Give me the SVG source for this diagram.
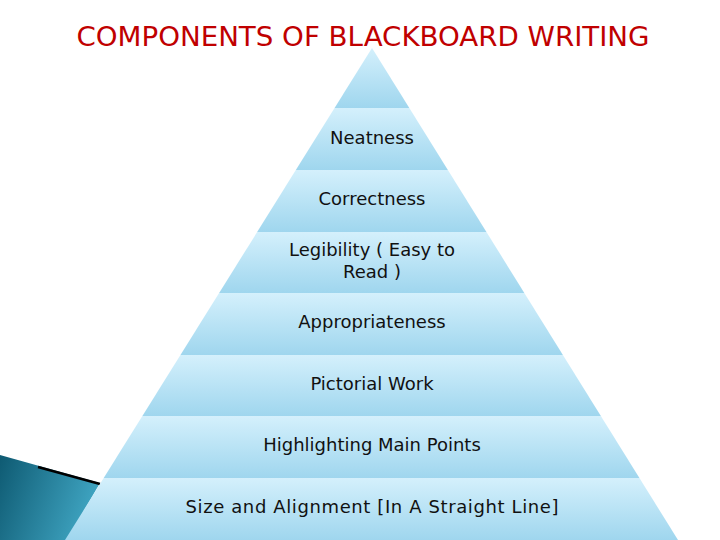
<svg xmlns="http://www.w3.org/2000/svg" width="720" height="540" viewBox="0 0 720 540">
<defs>
<linearGradient id="band" x1="0" y1="0" x2="0" y2="1">
<stop offset="0" stop-color="#d4f0fc"/><stop offset="1" stop-color="#9fd6ee"/>
</linearGradient>
<linearGradient id="teal" x1="0" y1="0" x2="1" y2="0.3">
<stop offset="0" stop-color="#0e5a72"/><stop offset="1" stop-color="#3ea3c0"/>
</linearGradient>
<clipPath id="pyr"><polygon points="372,48 678,540 65,540"/></clipPath>
</defs>
<style>
.l{font-family:"DejaVu Sans","Liberation Sans",sans-serif;font-size:18px;fill:#111;text-anchor:middle}
</style>
<rect width="720" height="540" fill="#fff"/>
<g id="decor">
<polygon points="0,455 100,483 67,540 0,540" fill="url(#teal)"/>
<line x1="38" y1="467" x2="100" y2="484" stroke="#000" stroke-width="2.5"/>
</g>
<text x="363" y="46" font-family="DejaVu Sans Condensed,DejaVu Sans,sans-serif" font-size="27" fill="#c00000" text-anchor="middle" textLength="573" lengthAdjust="spacingAndGlyphs">COMPONENTS OF BLACKBOARD WRITING</text>
<g clip-path="url(#pyr)">
<g id="apex"><rect x="0" y="48" width="720" height="60" fill="url(#band)"/></g>
<g id="n1"><rect x="0" y="108" width="720" height="62" fill="url(#band)"/><text class="l" x="372" y="144">Neatness</text></g>
<g id="n2"><rect x="0" y="170" width="720" height="62" fill="url(#band)"/><text class="l" x="372" y="205">Correctness</text></g>
<g id="n3"><rect x="0" y="232" width="720" height="61" fill="url(#band)"/><text class="l" x="372" y="256">Legibility ( Easy to</text><text class="l" x="372" y="278">Read )</text></g>
<g id="n4"><rect x="0" y="293" width="720" height="62" fill="url(#band)"/><text class="l" x="372" y="328">Appropriateness</text></g>
<g id="n5"><rect x="0" y="355" width="720" height="61" fill="url(#band)"/><text class="l" x="372" y="390">Pictorial Work</text></g>
<g id="n6"><rect x="0" y="416" width="720" height="62" fill="url(#band)"/><text class="l" x="372" y="451">Highlighting Main Points</text></g>
<g id="n7"><rect x="0" y="478" width="720" height="62" fill="url(#band)"/><text class="l" x="372" y="513" textLength="373">Size and Alignment [In A Straight Line]</text></g>
</g>
</svg>
